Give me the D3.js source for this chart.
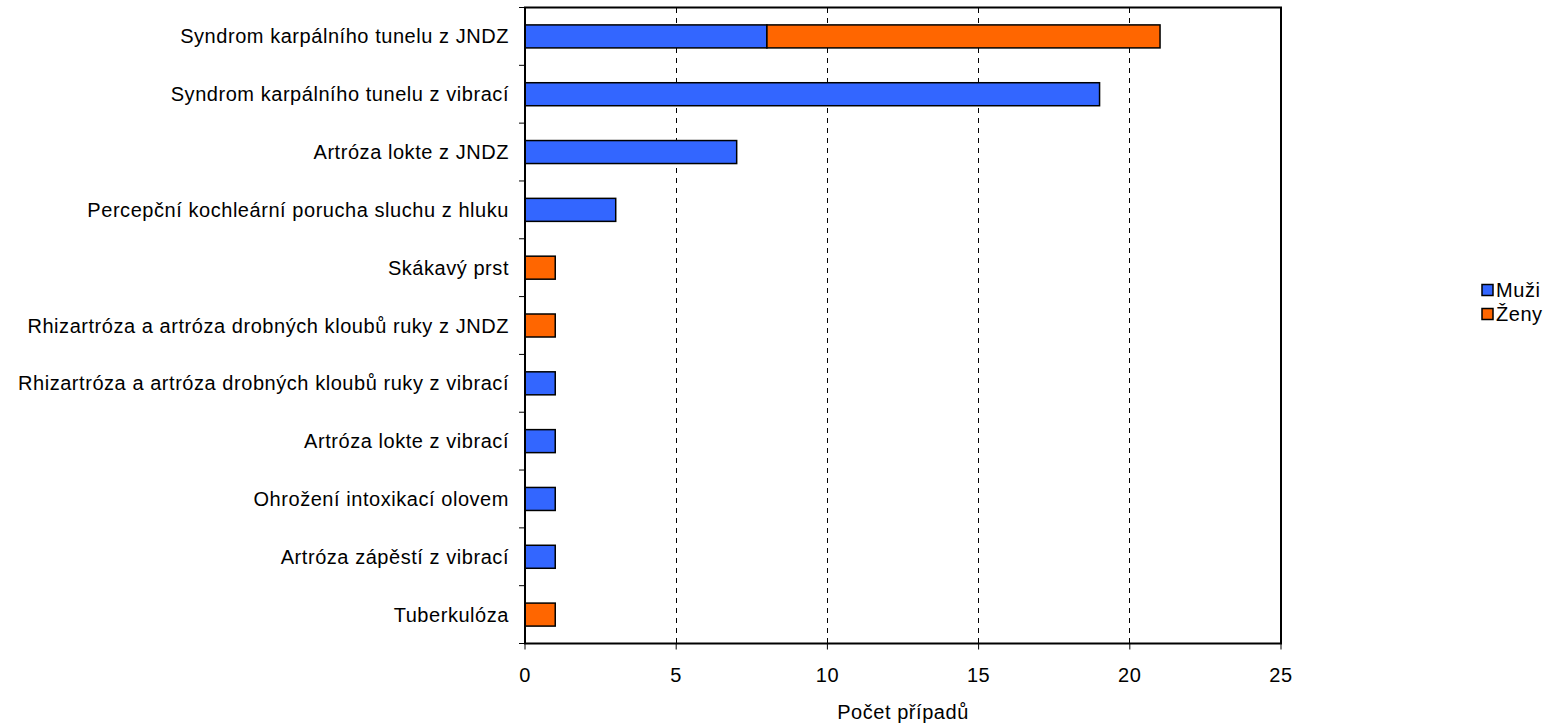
<!DOCTYPE html>
<html><head><meta charset="utf-8">
<script src="https://cdn.jsdelivr.net/npm/d3@7"></script>
<style>body{margin:0;background:#fff}svg{display:block}text{font-family:"Liberation Sans",Arial,sans-serif;fill:#000;letter-spacing:0.55px}</style>
</head><body><svg id="c" width="1566" height="726"></svg>
<script>
const categories = [
  "Syndrom karpálního tunelu z JNDZ",
  "Syndrom karpálního tunelu z vibrací",
  "Artróza lokte z JNDZ",
  "Percepční kochleární porucha sluchu z hluku",
  "Skákavý prst",
  "Rhizartróza a artróza drobných kloubů ruky z JNDZ",
  "Rhizartróza a artróza drobných kloubů ruky z vibrací",
  "Artróza lokte z vibrací",
  "Ohrožení intoxikací olovem",
  "Artróza zápěstí z vibrací",
  "Tuberkulóza"
];
const muzi = [8, 19, 7, 3, 0, 0, 1, 1, 1, 1, 0];
const zeny = [13, 0, 0, 0, 1, 1, 0, 0, 0, 0, 1];
const seriesNames = ["Muži", "Ženy"];
const seriesColors = ["#3366FF", "#FF6600"];
const xTicks = [0, 5, 10, 15, 20, 25];
const xTitle = "Počet případů";

const svg = d3.select("#c");
const L = 525, R = 1281, T = 7.5, B = 643.5;
const FS = 20;
const x = d3.scaleLinear().domain([0, 25]).range([L, R]);
const y = d3.scaleBand().domain(categories).range([T, B]).paddingInner(0).paddingOuter(0);
const barH = 23;

// gridlines
svg.append("g").selectAll("line").data(xTicks.filter(d => d > 0 && d < 25)).join("line")
  .attr("x1", d => x(d)).attr("x2", d => x(d)).attr("y1", T).attr("y2", B)
  .attr("stroke", "#000").attr("stroke-width", 1).attr("stroke-dasharray", "5,5")
  .attr("shape-rendering", "crispEdges");

// stacked data
const rows = categories.map((c, i) => ({c, v: [muzi[i], zeny[i]]}));
const stack = d3.stack().keys([0, 1]).value((d, k) => d.v[k])(rows);
svg.append("g").selectAll("g").data(stack).join("g")
  .attr("fill", (d, i) => seriesColors[i])
  .selectAll("rect").data(d => d.filter(s => s[1] - s[0] > 0)).join("rect")
  .attr("x", d => x(d[0])).attr("width", d => x(d[1]) - x(d[0]))
  .attr("y", d => y(d.data.c) + y.bandwidth() / 2 - barH / 2).attr("height", barH)
  .attr("stroke", "#000").attr("stroke-width", 1.5);

// plot border
svg.append("rect").attr("x", L).attr("y", T).attr("width", R - L).attr("height", B - T)
  .attr("fill", "none").attr("stroke", "#000").attr("stroke-width", 2);

// y ticks at band boundaries
const yb = categories.map(c => y(c)).concat([B]);
svg.append("g").selectAll("line").data(yb).join("line")
  .attr("x1", L - 6).attr("x2", L).attr("y1", d => d).attr("y2", d => d)
  .attr("stroke", "#000").attr("stroke-width", 1);
// y labels
svg.append("g").selectAll("text").data(categories).join("text")
  .attr("x", L - 16).attr("y", d => y(d) + y.bandwidth() / 2).attr("dy", "0.35em")
  .attr("text-anchor", "end").attr("font-size", FS).text(d => d);

// x axis ticks and labels
svg.append("g").selectAll("line").data(xTicks).join("line")
  .attr("x1", d => x(d)).attr("x2", d => x(d)).attr("y1", B).attr("y2", B + 6)
  .attr("stroke", "#000").attr("stroke-width", 1);
svg.append("g").selectAll("text").data(xTicks).join("text")
  .attr("x", d => x(d)).attr("y", 675).attr("dy", "0.35em")
  .attr("text-anchor", "middle").attr("font-size", FS).text(d => d);
svg.append("text").attr("x", (L + R) / 2).attr("y", 712).attr("dy", "0.35em")
  .attr("text-anchor", "middle").attr("font-size", FS).text(xTitle);

// legend
const lg = svg.append("g").selectAll("g").data(seriesNames).join("g")
  .attr("transform", (d, i) => `translate(1482, ${290 + i * 24})`);
lg.append("rect").attr("x", 0).attr("y", -5.5).attr("width", 11).attr("height", 11)
  .attr("fill", (d, i) => seriesColors[i]).attr("stroke", "#000").attr("stroke-width", 1.5);
lg.append("text").attr("x", 14).attr("y", 0).attr("dy", "0.35em").attr("font-size", FS).text(d => d);
</script></body></html>
